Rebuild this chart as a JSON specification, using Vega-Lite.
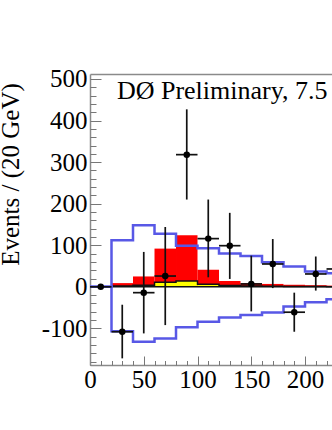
{
  "$schema": "https://vega.github.io/schema/vega-lite/v6.json",
  "width": 242,
  "height": 291,
  "autosize": {"type": "none"},
  "padding": {"left": 90, "top": 74, "right": 0, "bottom": 65},
  "background": "white",
  "config": {
    "view": {"stroke": null},
    "font": "Liberation Serif",
    "axis": {"grid": false, "labelFont": "Liberation Serif", "titleFont": "Liberation Serif"}
  },
  "resolve": {"axis": {"x": "independent", "y": "independent"}},
  "datasets": {
    "bins": [
      {"lo": 0, "hi": 20, "red": 0, "yellow": 0},
      {"lo": 20, "hi": 40, "red": 9, "yellow": 2},
      {"lo": 40, "hi": 60, "red": 25, "yellow": 4},
      {"lo": 60, "hi": 80, "red": 92, "yellow": 11},
      {"lo": 80, "hi": 100, "red": 124, "yellow": 14},
      {"lo": 100, "hi": 120, "red": 41, "yellow": 6},
      {"lo": 120, "hi": 140, "red": 14, "yellow": 3},
      {"lo": 140, "hi": 160, "red": 9, "yellow": 2},
      {"lo": 160, "hi": 180, "red": 7, "yellow": 1.5},
      {"lo": 180, "hi": 200, "red": 5, "yellow": 1},
      {"lo": 200, "hi": 220, "red": 4, "yellow": 1},
      {"lo": 220, "hi": 240, "red": 3, "yellow": 0.5}
    ],
    "edges": [
      {"edge": 0, "yellow": 0, "up": 0, "down": 0},
      {"edge": 20, "yellow": 2, "up": 112, "down": -107},
      {"edge": 40, "yellow": 4, "up": 148, "down": -132},
      {"edge": 60, "yellow": 11, "up": 128, "down": -124},
      {"edge": 80, "yellow": 14, "up": 99, "down": -97},
      {"edge": 100, "yellow": 6, "up": 93, "down": -84},
      {"edge": 120, "yellow": 3, "up": 80, "down": -74},
      {"edge": 140, "yellow": 2, "up": 74, "down": -68},
      {"edge": 160, "yellow": 1.5, "up": 59, "down": -62},
      {"edge": 180, "yellow": 1, "up": 49, "down": -47},
      {"edge": 200, "yellow": 1, "up": 37, "down": -37},
      {"edge": 220, "yellow": 0.5, "up": 33, "down": -30},
      {"edge": 240, "yellow": 0.5, "up": 33, "down": -30}
    ],
    "points": [
      {"xc": 10, "xlo": 0, "xhi": 20, "y": 0, "ylo": 0, "yhi": 0},
      {"xc": 30, "xlo": 20, "xhi": 40, "y": -108, "ylo": -172, "yhi": -43},
      {"xc": 50, "xlo": 40, "xhi": 60, "y": -14, "ylo": -112, "yhi": 84},
      {"xc": 70, "xlo": 60, "xhi": 80, "y": 26, "ylo": -92, "yhi": 144},
      {"xc": 90, "xlo": 80, "xhi": 100, "y": 318, "ylo": 210, "yhi": 427},
      {"xc": 110, "xlo": 100, "xhi": 120, "y": 116, "ylo": 23, "yhi": 210},
      {"xc": 130, "xlo": 120, "xhi": 140, "y": 99, "ylo": 19, "yhi": 178},
      {"xc": 150, "xlo": 140, "xhi": 160, "y": 7, "ylo": -59, "yhi": 75},
      {"xc": 170, "xlo": 160, "xhi": 180, "y": 55, "ylo": -3, "yhi": 115},
      {"xc": 190, "xlo": 180, "xhi": 200, "y": -61, "ylo": -108, "yhi": -14},
      {"xc": 210, "xlo": 200, "xhi": 220, "y": 31, "ylo": -9, "yhi": 73},
      {"xc": 230, "xlo": 220, "xhi": 240, "y": 43, "ylo": 5, "yhi": 81}
    ],
    "label": [{"text": "DØ Preliminary, 7.5 fb⁻¹"}]
  },
  "layer": [
    {
      "data": {"name": "bins"},
      "mark": {"type": "rect", "color": "#ff0000", "clip": true},
      "encoding": {
        "x": {"field": "lo", "type": "quantitative",
          "scale": {"domain": [0, 225.1], "nice": false, "zero": false},
          "axis": {"orient": "bottom", "values": [0, 50, 100, 150, 200], "tickSize": -9, "tickColor": "#777777", "tickWidth": 1,
            "domain": true, "domainColor": "#8a8a8a", "domainWidth": 1.5,
            "labelFontSize": 25, "labelColor": "#000000", "labelPadding": 31, "labelBaseline": "alphabetic", "labelAlign": "center",
            "labelFlush": false, "labelOverlap": false, "labelBound": false, "title": null}},
        "x2": {"field": "hi"},
        "y": {"field": "red", "type": "quantitative",
          "scale": {"domain": [-188, 512], "nice": false, "zero": false},
          "axis": {"orient": "left", "values": [-100, 0, 100, 200, 300, 400, 500], "tickSize": -11, "tickColor": "#777777", "tickWidth": 1,
            "domain": true, "domainColor": "#8a8a8a", "domainWidth": 1.5,
            "labelFontSize": 25, "labelColor": "#000000", "labelPadding": 14, "labelExpr": "datum.value + ''",
            "labelAlign": "right", "labelBaseline": "middle", "labelOverlap": false, "labelFlush": false, "labelBound": false,
            "title": "Events / (20 GeV)", "titleFontSize": 25, "titleFontWeight": "normal", "titleColor": "#000000",
            "titleAngle": -90, "titleAlign": "center", "titleBaseline": "alphabetic", "titleX": -72, "titleY": 100}},
        "y2": {"datum": 0}
      }
    },
    {
      "data": {"name": "bins"},
      "mark": {"type": "rect", "color": "#ffff00", "clip": true},
      "encoding": {
        "x": {"field": "lo", "type": "quantitative",
          "scale": {"domain": [0, 225.1], "nice": false, "zero": false},
          "axis": {"orient": "bottom", "values": [0, 10, 20, 30, 40, 50, 60, 70, 80, 90, 100, 110, 120, 130, 140, 150, 160, 170, 180, 190, 200, 210, 220],
            "tickSize": -4.5, "tickColor": "#777777", "tickWidth": 1, "domain": false, "labels": false, "title": null}},
        "x2": {"field": "hi"},
        "y": {"field": "yellow", "type": "quantitative",
          "scale": {"domain": [-188, 512], "nice": false, "zero": false},
          "axis": {"orient": "left", "values": [-180, -160, -140, -120, -100, -80, -60, -40, -20, 0, 20, 40, 60, 80, 100, 120, 140, 160, 180, 200, 220, 240, 260, 280, 300, 320, 340, 360, 380, 400, 420, 440, 460, 480, 500],
            "tickSize": -6, "tickColor": "#777777", "tickWidth": 1, "domain": false, "labels": false, "title": null}},
        "y2": {"datum": 0}
      }
    },
    {
      "data": {"name": "edges"},
      "mark": {"type": "line", "interpolate": "step-after", "color": "#111111", "strokeWidth": 1.5, "clip": true},
      "encoding": {
        "x": {"field": "edge", "type": "quantitative",
          "scale": {"domain": [0, 225.1], "nice": false, "zero": false},
          "axis": {"orient": "top", "ticks": false, "labels": false, "domain": true, "domainColor": "#8a8a8a", "domainWidth": 1.5, "title": null}},
        "y": {"field": "yellow", "type": "quantitative",
          "scale": {"domain": [-188, 512], "nice": false, "zero": false}, "axis": null}
      }
    },
    {
      "data": {"name": "label"},
      "mark": {"type": "rule", "color": "#111111", "strokeWidth": 1.5, "clip": true},
      "encoding": {
        "y": {"datum": 0, "type": "quantitative",
          "scale": {"domain": [-188, 512], "nice": false, "zero": false}, "axis": null}
      }
    },
    {
      "data": {"name": "edges"},
      "mark": {"type": "line", "interpolate": "step-after", "color": "#5858e6", "strokeWidth": 2.5, "clip": true},
      "encoding": {
        "x": {"field": "edge", "type": "quantitative",
          "scale": {"domain": [0, 225.1], "nice": false, "zero": false}, "axis": null},
        "y": {"field": "up", "type": "quantitative",
          "scale": {"domain": [-188, 512], "nice": false, "zero": false}, "axis": null}
      }
    },
    {
      "data": {"name": "edges"},
      "mark": {"type": "line", "interpolate": "step-after", "color": "#5858e6", "strokeWidth": 2.5, "clip": true},
      "encoding": {
        "x": {"field": "edge", "type": "quantitative",
          "scale": {"domain": [0, 225.1], "nice": false, "zero": false}, "axis": null},
        "y": {"field": "down", "type": "quantitative",
          "scale": {"domain": [-188, 512], "nice": false, "zero": false}, "axis": null}
      }
    },
    {
      "data": {"name": "points"},
      "mark": {"type": "rule", "color": "#111111", "strokeWidth": 1.7, "clip": true},
      "encoding": {
        "x": {"field": "xlo", "type": "quantitative",
          "scale": {"domain": [0, 225.1], "nice": false, "zero": false}, "axis": null},
        "x2": {"field": "xhi"},
        "y": {"field": "y", "type": "quantitative",
          "scale": {"domain": [-188, 512], "nice": false, "zero": false}, "axis": null}
      }
    },
    {
      "data": {"name": "points"},
      "mark": {"type": "rule", "color": "#111111", "strokeWidth": 1.7, "clip": true},
      "encoding": {
        "x": {"field": "xc", "type": "quantitative",
          "scale": {"domain": [0, 225.1], "nice": false, "zero": false}, "axis": null},
        "y": {"field": "ylo", "type": "quantitative",
          "scale": {"domain": [-188, 512], "nice": false, "zero": false}, "axis": null},
        "y2": {"field": "yhi"}
      }
    },
    {
      "data": {"name": "points"},
      "mark": {"type": "circle", "color": "#000000", "opacity": 1, "size": 42, "clip": true},
      "encoding": {
        "x": {"field": "xc", "type": "quantitative",
          "scale": {"domain": [0, 225.1], "nice": false, "zero": false}, "axis": null},
        "y": {"field": "y", "type": "quantitative",
          "scale": {"domain": [-188, 512], "nice": false, "zero": false}, "axis": null}
      }
    },
    {
      "data": {"name": "label"},
      "mark": {"type": "text", "align": "left", "baseline": "alphabetic", "font": "Liberation Serif", "fontSize": 26, "color": "#000000", "clip": true},
      "encoding": {
        "x": {"datum": 25, "type": "quantitative",
          "scale": {"domain": [0, 225.1], "nice": false, "zero": false}, "axis": null},
        "y": {"datum": 452, "type": "quantitative",
          "scale": {"domain": [-188, 512], "nice": false, "zero": false}, "axis": null},
        "text": {"field": "text"}
      }
    }
  ]
}
